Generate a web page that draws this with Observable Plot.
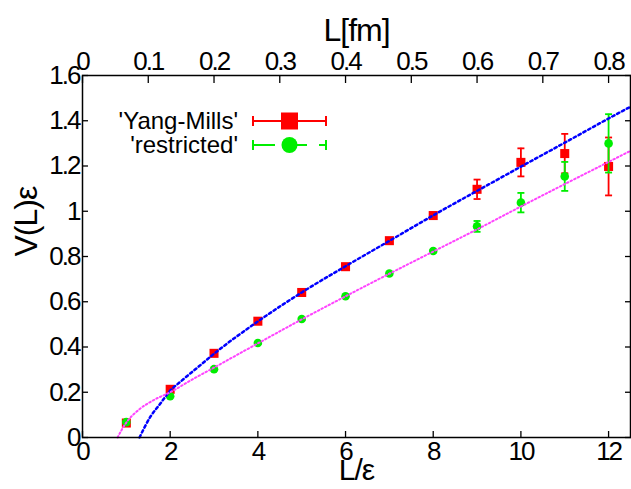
<!DOCTYPE html>
<html><head><meta charset="utf-8">
<script src="https://cdn.jsdelivr.net/npm/d3@7"></script>
<script src="https://cdn.jsdelivr.net/npm/@observablehq/plot@0.6"></script>
<style>
html,body{margin:0;padding:0;background:#fff;}
#wrap{position:relative;width:631px;height:489px;overflow:hidden;}
#chart g[aria-label$="tick label"] text{letter-spacing:-2px;}
#chart g[aria-label="text"] text{letter-spacing:-1px;}
#legend{position:absolute;left:0;top:0;}
</style></head><body>
<div id="wrap"><div id="chart"></div><svg id="legend" width="631" height="489"></svg></div>
<script>
// ---- data ----
const L = [1, 2, 3, 4, 5, 6, 7, 8, 9, 10, 11, 12];
const yangMills    = [0.064, 0.213, 0.372, 0.514, 0.641, 0.755, 0.870, 0.981, 1.097, 1.216, 1.255, 1.198];
const yangMillsErr = [0.004, 0.005, 0.005, 0.005, 0.005, 0.005, 0.006, 0.010, 0.043, 0.062, 0.087, 0.128];
const restricted    = [0.068, 0.182, 0.302, 0.418, 0.524, 0.624, 0.725, 0.824, 0.933, 1.038, 1.154, 1.300];
const restrictedErr = [0.003, 0.003, 0.003, 0.004, 0.004, 0.005, 0.006, 0.006, 0.024, 0.043, 0.064, 0.129];
// fit curves
const fitYMx = [1.3, 1.55, 1.78, 2.0, 2.23, 2.69, 3, 4, 5, 6, 7, 8, 9, 10, 11, 12, 12.5];
const fitYMy = [0.0, 0.092, 0.151, 0.207, 0.246, 0.32, 0.37, 0.513, 0.641, 0.757, 0.869, 0.982, 1.09, 1.197, 1.303, 1.41, 1.462];
const fitRx = [0.8, 0.9, 1.0, 1.3, 1.6, 2.0, 2.5, 3, 4, 5, 6, 7, 8, 9, 10, 11, 12, 12.5];
const fitRy = [0.0, 0.036, 0.066, 0.125, 0.163, 0.2, 0.256, 0.309, 0.416, 0.522, 0.624, 0.724, 0.822, 0.92, 1.021, 1.12, 1.218, 1.267];
// axes
const yTicks = [0, 0.2, 0.4, 0.6, 0.8, 1, 1.2, 1.4, 1.6];
const xTicks = [0, 2, 4, 6, 8, 10, 12];
const fmTicks = [0, 0.1, 0.2, 0.3, 0.4, 0.5, 0.6, 0.7, 0.8];
const fmPerUnit = 0.8 / 12;
const seriesNames = ["'Yang-Mills'", "'restricted'"];
const colors = ["#ff0000", "#00ee00", "#0000ff", "#ff44ff"];

const ym = L.map((x, i) => ({x, v: yangMills[i], lo: yangMills[i] - yangMillsErr[i], hi: yangMills[i] + yangMillsErr[i]}));
const rs = L.map((x, i) => ({x, v: restricted[i], lo: restricted[i] - restrictedErr[i], hi: restricted[i] + restrictedErr[i]}));
const fitYM = fitYMx.map((x, i) => ({x, v: fitYMy[i]}));
const fitR = fitRx.map((x, i) => ({x, v: fitRy[i]}));

const capSymbol = {draw(ctx, size) { const w = Math.sqrt(size / Math.PI); ctx.moveTo(-w, 0); ctx.lineTo(w, 0); }};
const fmUnits = fmTicks.map(f => f / fmPerUnit);

function series(data, color, symbol, r) {
  return [
    Plot.ruleX(data, {x: "x", y1: "lo", y2: "hi", stroke: color, strokeWidth: 1.8}),
    Plot.dot(data, {x: "x", y: "lo", symbol: capSymbol, r: 3.5, stroke: color, fill: "none", strokeWidth: 1.8}),
    Plot.dot(data, {x: "x", y: "hi", symbol: capSymbol, r: 3.5, stroke: color, fill: "none", strokeWidth: 1.8}),
    Plot.dot(data, {x: "x", y: "v", symbol, r, fill: color, stroke: "none"})
  ];
}

const plot = Plot.plot({
  width: 631, height: 489,
  marginLeft: 82, marginRight: 1, marginTop: 75, marginBottom: 52,
  x: {domain: [0, 12.5], label: null},
  y: {domain: [0, 1.6], label: null},
  style: {fontFamily: "'Liberation Sans', Arial, sans-serif", fontSize: "26px", color: "#000", background: "#fff"},
  marks: [
    // inward ticks
    Plot.axisY(yTicks, {anchor: "left", tickSize: 6, dx: 6, tickFormat: () => "", label: null, strokeWidth: 1.3}),
    Plot.axisY(yTicks, {anchor: "right", tickSize: 6, dx: -6, tickFormat: () => "", label: null, strokeWidth: 1.3}),
    Plot.axisX(xTicks, {anchor: "bottom", tickSize: 6, dy: -6, tickFormat: () => "", label: null, strokeWidth: 1.3}),
    Plot.axisX(fmUnits, {anchor: "top", tickSize: 7, dy: 7, tickFormat: () => "", label: null, strokeWidth: 1.3}),
    // labels
    Plot.axisY(yTicks, {anchor: "left", tickSize: 0, tickPadding: 3, tickFormat: d => String(d), label: null}),
    Plot.axisX(xTicks, {anchor: "bottom", tickSize: 0, tickPadding: 4, tickFormat: d => String(d), label: null}),
    Plot.axisX(fmUnits, {anchor: "top", tickSize: 0, tickPadding: 6, tickFormat: d => String(+(d * fmPerUnit).toFixed(1)), label: null}),
    ...series(ym, colors[0], "square", 5.1),
    ...series(rs, colors[1], "circle", 4.3),
    Plot.line(fitYM, {x: "x", y: "v", stroke: colors[2], strokeWidth: 2.5, strokeDasharray: "2.5,3", curve: "monotone-x"}),
    Plot.line(fitR, {x: "x", y: "v", stroke: colors[3], strokeWidth: 2, strokeDasharray: "1.5,2.5", curve: "monotone-x"}),
    Plot.frame({stroke: "#000", strokeWidth: 1.5}),
    Plot.text(["V(L)ε"], {frameAnchor: "left", dx: -56, rotate: -90, fontSize: 32, lineAnchor: "middle"}),
    Plot.text(["L/ε"], {frameAnchor: "bottom", dy: 33, fontSize: 30, lineAnchor: "middle"}),
    Plot.text(["L[fm]"], {frameAnchor: "top", dy: -45, fontSize: 32, lineAnchor: "middle"})
  ]
});
document.getElementById("chart").appendChild(plot);

// legend (inside the plot, upper left)
const lg = d3.select("#legend").style("font-family", "'Liberation Sans', Arial, sans-serif");
const rows = [
  {name: seriesNames[0], color: colors[0], y: 121, sym: "square", segs: [[253, 326]]},
  {name: seriesNames[1], color: colors[1], y: 145, sym: "circle", segs: [[253, 275], [297, 307], [319, 326]]}
];
for (const r of rows) {
  lg.append("text").attr("x", 238).attr("y", r.y).attr("dy", "0.35em").attr("text-anchor", "end")
    .attr("font-size", 24).text(r.name);
  for (const [a, b] of r.segs) lg.append("line").attr("x1", a).attr("x2", b).attr("y1", r.y).attr("y2", r.y)
    .attr("stroke", r.color).attr("stroke-width", 2);
  for (const cx of [253, 326]) lg.append("line").attr("x1", cx).attr("x2", cx).attr("y1", r.y - 5).attr("y2", r.y + 5)
    .attr("stroke", r.color).attr("stroke-width", 2);
  if (r.sym === "square") lg.append("rect").attr("x", 289.5 - 8.5).attr("y", r.y - 8.5).attr("width", 17).attr("height", 17).attr("fill", r.color);
  else lg.append("circle").attr("cx", 289.5).attr("cy", r.y).attr("r", 8).attr("fill", r.color);
}
</script>
</body></html>
